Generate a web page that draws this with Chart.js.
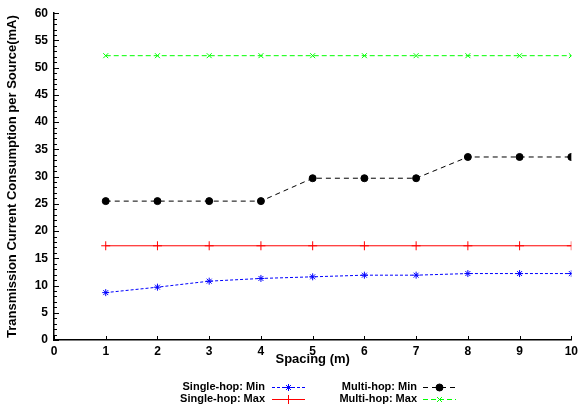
<!DOCTYPE html>
<html>
<head>
<meta charset="utf-8">
<style>
  html, body { margin: 0; padding: 0; background: #fff; }
  #wrap { width: 582px; height: 412px; }
</style>
<script src="https://cdn.jsdelivr.net/npm/chart.js@4/dist/chart.umd.min.js"></script>
</head>
<body>
<div id="wrap"><canvas id="myChart" width="582" height="412"></canvas></div>
<script>
    "use strict";

    // data
    var spacing = [1, 2, 3, 4, 5, 6, 7, 8, 9, 10];
    var singleMin = [8.7, 9.7, 10.8, 11.3, 11.6, 11.9, 11.9, 12.2, 12.2, 12.2];
    var singleMax = [17.3, 17.3, 17.3, 17.3, 17.3, 17.3, 17.3, 17.3, 17.3, 17.3];
    var multiMin = [25.5, 25.5, 25.5, 25.5, 29.7, 29.7, 29.7, 33.6, 33.6, 33.6];
    var multiMax = [52.2, 52.2, 52.2, 52.2, 52.2, 52.2, 52.2, 52.2, 52.2, 52.2];
    var xTicks = [0, 1, 2, 3, 4, 5, 6, 7, 8, 9, 10];
    var yTicks = [0, 5, 10, 15, 20, 25, 30, 35, 40, 45, 50, 55, 60];

    var FONT = '"Liberation Sans", Arial, sans-serif';

    function pts(ys) {
        return spacing.map(function (x, i) { return { x: x, y: ys[i] }; });
    }

    var series = [
        { label: 'Single-hop: Min', data: singleMin, color: '#0000ff', dash: [3, 2], style: 'star', r: 3.5 },
        { label: 'Single-hop: Max', data: singleMax, color: '#ff0000', dash: [], style: 'cross', r: 4.5 },
        { label: 'Multi-hop: Min', data: multiMin, color: '#000000', dash: [5, 4], style: 'circle', r: 3.5 },
        { label: 'Multi-hop: Max', data: multiMax, color: '#00ff00', dash: [5, 3], style: 'crossRot', r: 3.5 }
    ];

    // inward ticks, gnuplot style
    var innerTicks = {
        id: 'innerTicks',
        afterDatasetsDraw: function (chart) {
            var c = chart.ctx, xs = chart.scales.x, ys = chart.scales.y;
            var a = chart.chartArea;
            c.save();
            c.strokeStyle = '#000';
            c.lineWidth = 1;
            c.beginPath();
            for (var v = 0; v <= 60; v++) {
                var py = Math.round(ys.getPixelForValue(v)) + 0.5;
                var len = (v % 5 === 0) ? 5 : 3;
                c.moveTo(a.left, py);
                c.lineTo(a.left + len, py);
            }
            xTicks.forEach(function (t) {
                var px = Math.round(xs.getPixelForValue(t)) + 0.5;
                c.moveTo(px, a.bottom);
                c.lineTo(px, a.bottom - 4);
            });
            c.stroke();
            c.restore();
        }
    };

    // legend under the axis title
    var bottomLegend = {
        id: 'bottomLegend',
        afterDraw: function (chart) {
            var c = chart.ctx;
            var slots = [
                { tx: 265, y: 387, x0: 272, x1: 305 },
                { tx: 265, y: 399, x0: 272, x1: 305 },
                { tx: 417, y: 387, x0: 423, x1: 456 },
                { tx: 417, y: 399, x0: 423, x1: 456 }
            ];
            c.save();
            c.font = 'bold 11px ' + FONT;
            c.textAlign = 'right';
            c.textBaseline = 'middle';
            series.forEach(function (s, i) {
                var p = slots[i];
                c.fillStyle = '#000';
                c.fillText(s.label, p.tx, p.y);
                c.strokeStyle = s.color;
                c.lineWidth = 1;
                c.setLineDash(s.dash);
                c.beginPath();
                c.moveTo(p.x0, p.y + 0.5);
                c.lineTo(p.x1, p.y + 0.5);
                c.stroke();
                c.setLineDash([]);
                if (Chart.helpers && Chart.helpers.drawPoint) {
                    c.fillStyle = s.color;
                    Chart.helpers.drawPoint(c, { pointStyle: s.style, radius: s.r, borderWidth: 1 }, (p.x0 + p.x1) / 2, p.y + 0.5);
                }
            });
            c.restore();
        }
    };

    var ctx = document.getElementById('myChart');
    var chart = new Chart(ctx, {
        type: 'line',
        data: {
            datasets: series.map(function (s) {
                return {
                    label: s.label,
                    data: pts(s.data),
                    borderColor: s.color,
                    backgroundColor: s.color,
                    borderWidth: 1,
                    borderDash: s.dash,
                    pointStyle: s.style,
                    pointRadius: s.r,
                    pointBorderWidth: 1,
                    pointBorderColor: s.color,
                    pointBackgroundColor: s.color,
                    tension: 0,
                    fill: false
                };
            })
        },
        options: {
            responsive: false,
            animation: false,
            events: [],
            layout: { padding: { top: 6, right: 10, left: 0, bottom: 42 } },
            plugins: {
                legend: { display: false },
                tooltip: { enabled: false }
            },
            scales: {
                x: {
                    type: 'linear',
                    min: 0,
                    max: 10,
                    afterFit: function (s) { s.height = 30; },
                    afterBuildTicks: function (s) { s.ticks = xTicks.map(function (v) { return { value: v }; }); },
                    grid: { display: false, drawTicks: false },
                    border: { display: true, color: '#000', width: 1.5 },
                    ticks: { color: '#000', padding: 4, font: { family: FONT, size: 12, weight: 'bold' }, maxRotation: 0 },
                    title: { display: true, text: 'Spacing (m)', color: '#000', padding: { top: 0, bottom: 3 }, font: { family: FONT, size: 13, weight: 'bold' } }
                },
                y: {
                    min: 0,
                    max: 60,
                    afterFit: function (s) { s.width = 54; },
                    afterBuildTicks: function (s) { s.ticks = yTicks.map(function (v) { return { value: v }; }); },
                    grid: { display: false, drawTicks: false },
                    border: { display: true, color: '#000', width: 1.5 },
                    ticks: { color: '#000', padding: 6, font: { family: FONT, size: 12, weight: 'bold' } },
                    title: { display: true, text: 'Transmission Current Consumption per Source(mA)', color: '#000', padding: { top: 5, bottom: 0 }, font: { family: FONT, size: 13, weight: 'bold' } }
                }
            }
        },
        plugins: [innerTicks, bottomLegend]
    });
</script>
</body>
</html>
